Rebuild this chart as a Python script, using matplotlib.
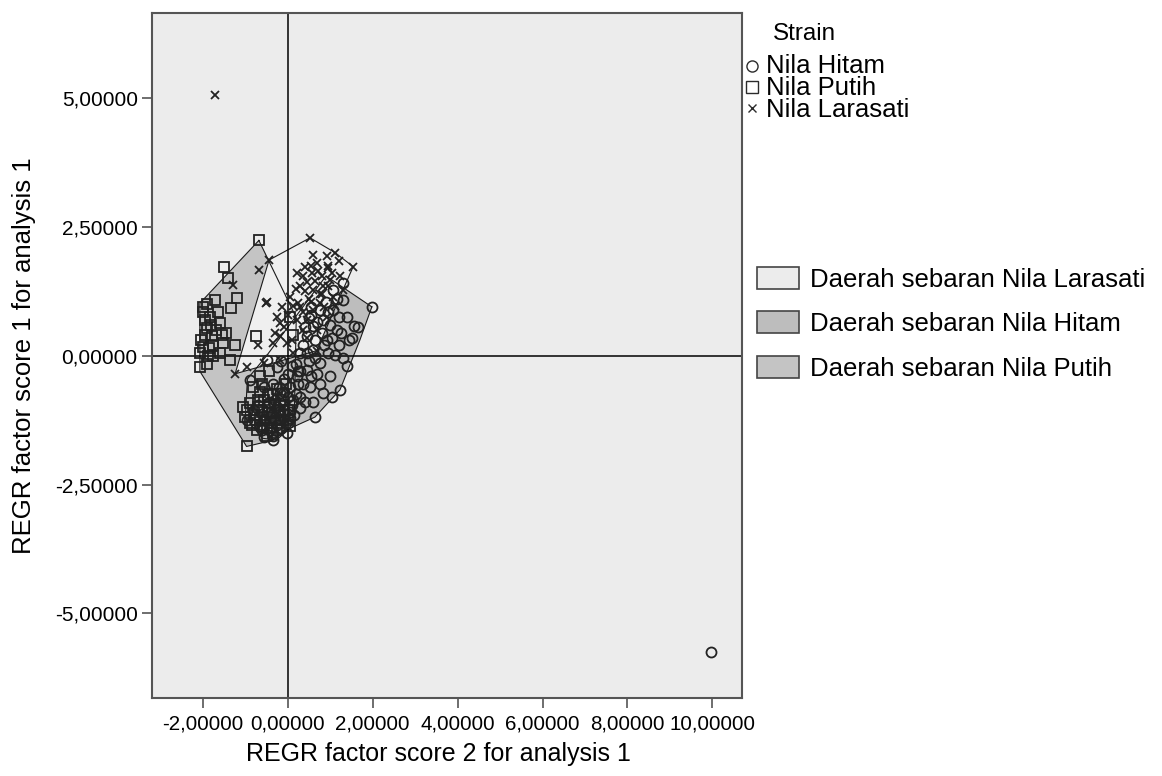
import numpy as np
import matplotlib
matplotlib.use("Agg")
import matplotlib.pyplot as plt
from matplotlib.ticker import FuncFormatter
from matplotlib.patches import Rectangle
from matplotlib.lines import Line2D

plt.rcParams['font.family'] = ['Liberation Sans', 'DejaVu Sans']

# REGR factor scores per strain (x = factor score 2, y = factor score 1)
hitam_x = [1.98, 1.55, 1.51, 1.11, 0.84, 1.23, 0.64, 0.60, 0.29, -0.34, -0.57, -0.89, 0.49, 1.31,
           1.07, 0.84, 0.60, 0.45, 0.92, 1.15, 1.39, 1.31, 1.07, 0.76, 0.60, 0.29, 0.76, 0.45,
           0.21, 0.05, 0.53, 1.00, -0.18, -0.49, -0.18, 0.13, -0.57, -0.97, -0.65, -0.02, -0.26,
           -0.49, -0.40, -0.30, -0.10, 0.00, -0.25, -0.55, -0.70, 0.20, 0.35, 0.70, 0.95, 1.20,
           0.55, 0.90, 1.20, 1.45, 0.10, 0.35, -0.10, 0.80, 1.00, 0.65, -0.45, -0.15, 0.40,
           -0.80, 0.15, 1.65, 1.40, 1.05, -0.60, -0.35, 0.05, -0.20, 0.25, 0.50,
           -0.30, -0.45, -0.20, 0.10, 0.30, -0.05, -0.60, -0.35, 0.00, 0.20, 0.45, 0.65, 0.85,
           1.05, 0.70, 0.95, 1.15, 0.40, -0.15, 0.55, 0.25, -0.25, -0.50, 0.05, -0.10, 0.30,
           0.75, 1.30, 1.25, 0.55]
hitam_y = [0.95, 0.58, 0.34, 0.02, -0.72, -0.66, -1.18, -0.89, -1.02, -1.63, -1.57, -0.47, 0.73, 1.41,
           0.89, 0.70, 0.57, 0.38, 0.31, 0.50, 0.76, 1.09, 1.28, 0.89, 0.12, 0.05, -0.14, -0.27,
           -0.40, -0.60, -0.60, -0.40, -0.72, -0.98, -1.24, -0.85, -0.60, -1.24, -1.37, -1.50, -0.21,
           -0.08, -1.10, -0.85, -1.05, -0.80, -1.35, -1.25, -0.95, -0.75, -0.55, -0.35, 0.05, 0.20,
           0.95, 1.05, 0.75, 0.30, -0.20, 0.20, -0.45, 0.45, 0.60, 0.30, -1.45, -1.40, -0.90,
           -1.05, -1.15, 0.55, -0.20, -0.80, -1.40, -0.55, -1.20, -1.10, -0.30, -0.10,
           -1.25, -0.90, -0.60, -0.95, -0.80, -1.30, -1.45, -1.55, -0.35, -0.15, 0.05, -0.05, 0.20,
           0.35, 0.65, 0.85, 1.10, 0.55, -0.10, -0.40, -0.55, -1.00, -1.10, -1.10, -0.70, -0.30,
           -0.55, -0.05, 0.45, 0.80]
hitam_out_x = [9.96]
hitam_out_y = [-5.76]

putih_x = [-0.68, -1.50, -1.41, -1.20, -1.34, -1.71, -1.99, -1.83, -1.59, -1.91, -1.79, -1.52, -1.24,
           -2.07, -1.87, -2.07, -1.36, -0.75, 0.13, 0.05, -1.99, -1.75, -1.95, -0.97, -1.01, -0.73,
           -0.89, -0.49, -0.34, -0.18, -0.65, 0.05, -0.46, -0.81, -1.95, -1.85, -2.00, -1.65, -1.70,
           -1.60, -1.45, -1.90, -0.60, -0.35, -0.20, -0.55, -0.30, -0.10, -0.75, -0.40, -0.85, 0.00,
           -0.65, -0.25, -0.95, -0.15, -0.50, -0.05, -0.70, -0.45,
           -0.55, -0.25, -0.80, -0.45, -0.15, -0.35, -0.70, -0.90, 0.00, -0.60, -0.20, -0.40,
           -1.80, -2.05, -1.55, -1.90, -1.75, -0.10, -0.65, -1.05]
putih_y = [2.24, 1.73, 1.51, 1.12, 0.93, 1.09, 0.95, 0.76, 0.63, 0.54, 0.38, 0.25, 0.21,
           0.05, -0.01, -0.21, -0.08, 0.38, 0.41, 0.76, 0.18, 0.21, 0.70, -1.76, -1.18, -1.44,
           -0.92, -1.24, -1.50, -0.98, -0.40, -1.37, -0.76, -0.60, 0.40, 0.15, 0.85, 0.85, 0.50,
           0.05, 0.45, -0.15, -1.10, -1.20, -1.30, -0.85, -0.95, -1.15, -1.25, -1.40, -1.35, -1.05,
           -0.70, -0.65, -1.05, -0.85, -1.55, -0.55, -1.00, -0.30,
           -1.35, -1.45, -1.15, -1.00, -1.25, -0.75, -0.85, -1.30, -1.25, -0.55, -1.10, -1.30,
           0.60, 0.30, 0.40, 1.00, 0.00, -0.95, -1.20, -1.00]

larasati_x = [0.525, 1.12, 1.54, -0.44, -1.24, 0.68, -0.68, -1.28, -0.49, -0.14, -0.18, -0.69, 0.41,
              0.68, 0.45, 0.72, 0.60, 0.84, 1.00, 1.07, 0.76, 0.25, 0.13, 0.21, -0.18, -0.02, 0.45,
              0.60, 0.92, 1.12, 1.31, 1.23, 0.92, 0.57, 0.29, 0.05, 0.37, 0.68, 0.13, -0.34, -0.57,
              -0.97, -0.18, -0.26, 0.21, -0.51, 0.95, 0.35, 0.80, 0.50,
              0.55, 0.80, 0.95, 0.65, 0.40, 0.75, 1.05, 0.30, 0.55, 0.85, 0.20, 0.00, -0.10,
              0.10, 0.45, 0.95, 0.60, 1.20, 0.35, -0.30]
larasati_y = [2.29, 2.00, 1.73, 1.86, -0.35, 0.10, 1.67, 1.38, 1.05, 0.95, 0.63, 0.21, 1.73,
              1.80, 1.44, 1.64, 1.28, 1.35, 1.48, 1.15, 1.02, 1.02, 0.96, 0.70, 0.38, 0.25, 0.70,
              0.89, 0.76, 0.96, 1.28, 1.54, 1.93, 1.61, 1.35, 1.15, 0.50, 0.50, 0.05, 0.25, -0.14,
              -0.21, -0.08, 0.76, 1.61, 1.02, 1.70, 0.85, 1.20, 1.10,
              1.75, 1.55, 1.75, 1.45, 1.25, 1.20, 1.60, 0.95, 1.05, 0.95, 1.30, 0.80, 0.55,
              0.30, 0.35, 1.35, 1.95, 1.85, 1.55, 0.45]
larasati_out_x = [-1.71]
larasati_out_y = [5.07]

# hand drawn "daerah sebaran" regions
reg_larasati_x = [0.525, 1.12, 1.54, 1.30, 0.68, -1.24, -0.44]
reg_larasati_y = [2.29, 2.00, 1.73, 1.28, 0.10, -0.35, 1.86]
reg_hitam_x = [1.98, 1.70, 1.23, 0.64, -0.03, -0.34, -0.60, -1.00, -0.95, -0.50, 0.90]
reg_hitam_y = [0.95, 0.31, -0.66, -1.19, -1.44, -1.63, -1.60, -1.20, -0.45, 0.00, 1.55]
reg_putih_x = [-0.68, -2.07, -2.07, -0.97, -0.25, 0.15, 0.20]
reg_putih_y = [2.24, 1.02, -0.30, -1.76, -1.62, -1.35, 0.74]

xticks = [-2, 0, 2, 4, 6, 8, 10]
yticks = [-5, -2.5, 0, 2.5, 5]

W, H = 1162, 776
fig = plt.figure(figsize=(W / 100, H / 100), dpi=100)
fig.patch.set_facecolor('white')
ax = fig.add_axes([152.3 / W, 1 - 698.3 / H, (741.7 - 152.3) / W, (698.3 - 13.3) / H])
ax.set_facecolor('#ececec')

# regions: fills first, outlines over them
ax.fill(reg_hitam_x, reg_hitam_y, facecolor='#bdbdbd', edgecolor='none', zorder=1)
ax.fill(reg_putih_x, reg_putih_y, facecolor='#c4c4c4', edgecolor='none', zorder=1.1)
ax.fill(reg_larasati_x, reg_larasati_y, facecolor='#efefef', edgecolor='none', zorder=1.2)
for rx, ry in [(reg_hitam_x, reg_hitam_y), (reg_putih_x, reg_putih_y), (reg_larasati_x, reg_larasati_y)]:
    ax.plot(rx + rx[:1], ry + ry[:1], color='#1a1a1a', lw=0.8, zorder=2)

ax.axhline(0, color='black', lw=1.1, zorder=2.5)
ax.axvline(0, color='black', lw=1.1, zorder=2.5)

mk = dict(linestyle='none', mfc='none', mec='#222222', mew=1.3, zorder=4)
ax.plot(hitam_x + hitam_out_x, hitam_y + hitam_out_y, marker='o', ms=7.2, **mk)
ax.plot(putih_x, putih_y, marker='s', ms=7.2, **mk)
ax.plot(larasati_x + larasati_out_x, larasati_y + larasati_out_y, marker='x', ms=5.8, **mk)

ax.set_xlim(-3.19, 10.69)
ax.set_ylim(-6.65, 6.65)
ax.set_xticks(xticks)
ax.set_yticks(yticks)
fmt = FuncFormatter(lambda v, p: f"{v:.5f}".replace('.', ','))
ax.xaxis.set_major_formatter(fmt)
ax.yaxis.set_major_formatter(fmt)
ax.tick_params(axis='both', direction='out', length=7.5, width=1.2, color='#555555',
               labelcolor='black')
ax.tick_params(axis='x', pad=4, labelsize=14.8)
ax.tick_params(axis='y', pad=3, labelsize=15)
for s in ax.spines.values():
    s.set_color('#555555')
    s.set_linewidth(1.5)

fig.text(438.5 / W, 1 - 754 / H, 'REGR factor score 2 for analysis 1', fontsize=18,
         ha='center', va='center')
fig.text(24 / W, 1 - 356 / H, 'REGR factor score 1 for analysis 1', fontsize=18.5,
         ha='center', va='center', rotation=90)

# legend: strain markers
fig.text(773 / W, 1 - 34 / H, 'Strain', fontsize=17.5, ha='left', va='center')
strain_names = ['Nila Hitam', 'Nila Putih', 'Nila Larasati']
strain_marks = [('o', 8, 66), ('s', 8, 87), ('x', 5.5, 108)]
for name, (m, size, py) in zip(strain_names, strain_marks):
    fig.add_artist(Line2D([751.7 / W], [1 - py / H], marker=m, ms=size, mfc='none',
                          mec='#2b2b2b', mew=1.0, linestyle='none', transform=fig.transFigure))
for name, py in zip(strain_names, [66, 87.7, 110]):
    fig.text(766 / W, 1 - py / H, name, fontsize=18.5, ha='left', va='center')

# legend: regions
region_names = ['Daerah sebaran Nila Larasati', 'Daerah sebaran Nila Hitam', 'Daerah sebaran Nila Putih']
region_cols = ['#ececec', '#bdbdbd', '#c4c4c4']
for name, col, py in zip(region_names, region_cols, [277.5, 322, 367]):
    fig.add_artist(Rectangle((756.7 / W, 1 - (py + 11) / H), 42.3 / W, 22 / H,
                             facecolor=col, edgecolor='#444444', lw=1.2,
                             transform=fig.transFigure))
    fig.text(810 / W, 1 - (py + 2) / H, name, fontsize=18.5, ha='left', va='center')

fig.savefig('out.png', dpi=100)
